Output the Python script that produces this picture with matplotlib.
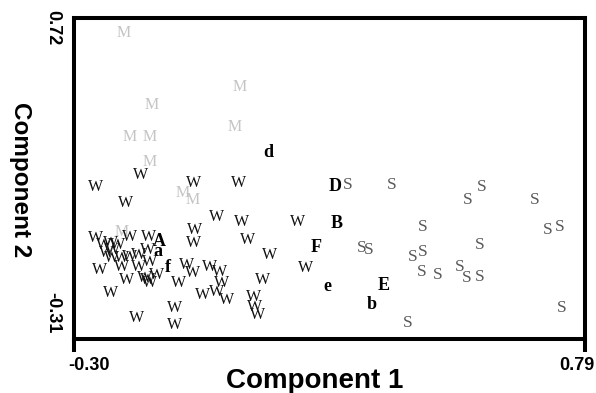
import matplotlib
matplotlib.use("Agg")
import matplotlib.pyplot as plt
from matplotlib.transforms import ScaledTranslation

# ---- data ----
w_x = [-0.255, -0.159, -0.191, -0.046, 0.050, 0.005, 0.058, -0.042, -0.046, 0.071,
       0.118, -0.059, -0.048, -0.010, 0.011, -0.078, -0.025, 0.005, 0.026, 0.103,
       0.082, 0.086, 0.092, -0.085, -0.085, -0.166, -0.223, -0.245, 0.176, 0.193,
       -0.255, -0.223, -0.208, -0.181, -0.142, -0.230, -0.181, -0.163, -0.144, -0.138,
       -0.198, -0.187, -0.149, -0.123, -0.198, -0.217, -0.219, -0.163, -0.238, -0.138,
       -0.144, 0.014]
w_y = [0.178, 0.216, 0.126, 0.190, 0.190, 0.081, 0.065, 0.040, -0.002, 0.008,
       -0.041, -0.073, -0.098, -0.079, -0.095, -0.130, -0.169, -0.159, -0.185, -0.121,
       -0.175, -0.207, -0.233, -0.211, -0.265, -0.243, -0.162, -0.089, 0.065, -0.082,
       0.014, -0.002, -0.008, 0.017, 0.017, -0.034, -0.047, -0.041, -0.025, -0.063,
       -0.079, -0.121, -0.114, -0.105, -0.050, -0.025, -0.050, -0.079, -0.008, -0.130,
       -0.120, -0.130]

s_x = [0.284, 0.378, 0.540, 0.570, 0.683, 0.444, 0.711, 0.737, 0.566, 0.314,
       0.329, 0.423, 0.444, 0.442, 0.476, 0.523, 0.538, 0.566, 0.412, 0.741]
s_y = [0.184, 0.184, 0.136, 0.178, 0.136, 0.049, 0.040, 0.049, -0.008, -0.018,
       -0.024, -0.047, -0.031, -0.095, -0.105, -0.079, -0.114, -0.111, -0.259, -0.211]

m_x = [-0.195, 0.054, -0.134, -0.181, -0.138, 0.043, -0.138, -0.068, -0.046, -0.198]
m_y = [0.672, 0.499, 0.441, 0.338, 0.338, 0.370, 0.258, 0.158, 0.136, 0.033]

lab_text = ["d", "D", "B", "F", "e", "E", "b", "A", "a", "f"]
lab_x = [0.114, 0.257, 0.261, 0.216, 0.240, 0.361, 0.334, -0.117, -0.121, -0.099]
lab_y = [0.290, 0.178, 0.062, -0.015, -0.143, -0.137, -0.198, 0.004, -0.028, -0.079]

x_ticks = [-0.30, 0.79]
x_tick_labels = ["-0.30", "0.79"]
y_ticks = [-0.31, 0.72]
y_tick_labels = ["-0.31", "0.72"]

# ---- figure ----
fig = plt.figure(figsize=(5.96, 3.93), dpi=100)
ax = fig.add_axes([74 / 596, 1 - 339 / 393, (585 - 74) / 596, (339 - 18) / 393])
ax.set_xlim(x_ticks[0], x_ticks[1])
ax.set_ylim(y_ticks[0], y_ticks[1])

serif = "Liberation Serif"
for x, y in zip(m_x, m_y):
    ax.text(x, y, "M", family=serif, fontsize=11.5, color="#c4c4c4",
            ha="center", va="center")
for x, y in zip(w_x, w_y):
    ax.text(x, y, "W", family=serif, fontsize=11.5, color="#111111",
            ha="center", va="center")
for x, y in zip(s_x, s_y):
    ax.text(x, y, "S", family=serif, fontsize=12.5, color="#5a5a5a",
            ha="center", va="center")
for t, x, y in zip(lab_text, lab_x, lab_y):
    ax.text(x, y, t, family=serif, fontsize=13, fontweight="bold",
            color="black", ha="center", va="center")

for sp in ax.spines.values():
    sp.set_linewidth(2.9)

sans = "Liberation Sans"
ax.set_xticks(x_ticks)
ax.set_xticklabels(x_tick_labels, family=sans, fontweight="bold", fontsize=13)
ax.tick_params(axis="x", length=9, width=2.9, direction="out", pad=4)
labs = ax.get_xticklabels()
labs[0].set_ha("left")
labs[0].set_transform(labs[0].get_transform() + ScaledTranslation(-6 / 100, 0, fig.dpi_scale_trans))
labs[1].set_ha("right")
labs[1].set_transform(labs[1].get_transform() + ScaledTranslation(9 / 100, 0, fig.dpi_scale_trans))

ax.set_yticks(y_ticks)
ax.set_yticklabels(y_tick_labels, family=sans, fontweight="bold",
                   fontsize=13, rotation=-90)
ax.tick_params(axis="y", length=0, pad=9)
ylabs = ax.get_yticklabels()
ylabs[0].set_va("bottom")
ylabs[0].set_transform(ylabs[0].get_transform() + ScaledTranslation(0, 6 / 100, fig.dpi_scale_trans))
ylabs[1].set_va("top")
ylabs[1].set_transform(ylabs[1].get_transform() + ScaledTranslation(0, 8 / 100, fig.dpi_scale_trans))

fig.text(315 / 596, 1 - 388 / 393, "Component 1", family=sans, fontweight="bold",
         fontsize=20, ha="center", va="baseline")
fig.text(20 / 596, 1 - 180 / 393, "Component 2", family=sans, fontweight="bold",
         fontsize=17.5, ha="center", va="center", rotation=-90)

fig.savefig("out.png", dpi=100)
